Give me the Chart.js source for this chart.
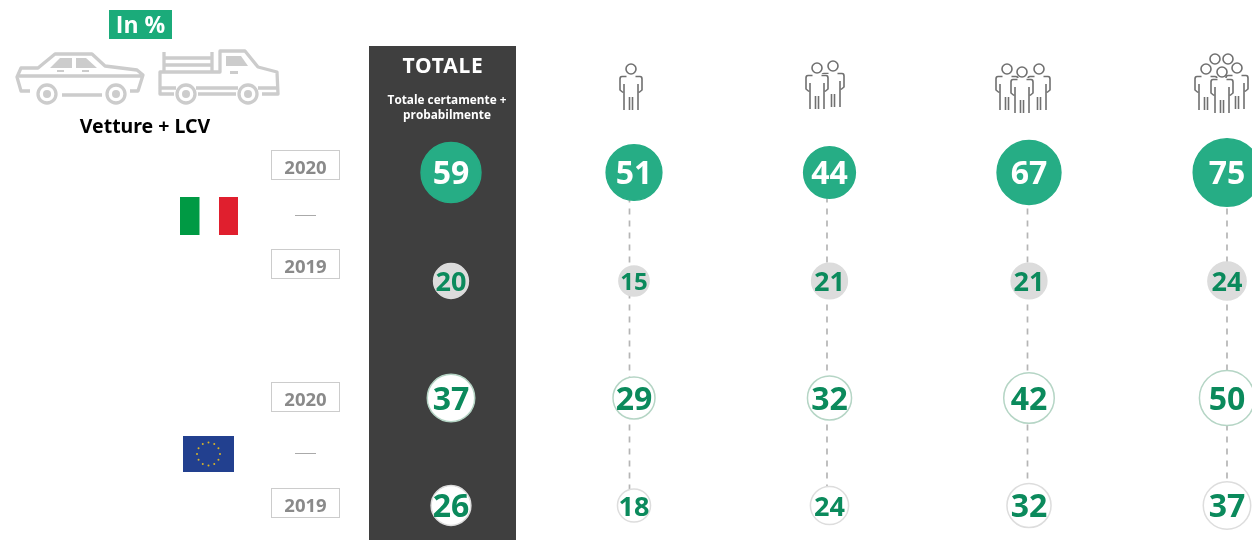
<!DOCTYPE html>
<html lang="it">
<head>
<meta charset="utf-8">
<title>Vetture + LCV</title>
<script src="https://cdn.jsdelivr.net/npm/chart.js@4"></script>
<style>
    html, body { margin: 0; background: #fff; overflow: hidden; }
    #stage { position: relative; width: 1252px; height: 540px; font-family: "Open Sans", sans-serif; font-weight: 700; }
    #stage > * { position: absolute; }
    #chart { left: 0; top: 0; }
    .center { text-align: center; transform: translateX(-50%); white-space: nowrap; }
    #band { left: 369px; top: 46px; width: 147px; height: 494px; background: #3f3f3f; }
    #inPct { left: 109px; top: 10px; width: 63px; height: 29px; line-height: 29px; background: #1bab7a; color: #fff; font-size: 23px; text-align: center; }
    #vehicle { left: 145px; top: 113px; font-size: 19.5px; line-height: 26px; color: #000; font-family: "Noto Sans", sans-serif; }
    #total { left: 443px; top: 51px; font-size: 21px; letter-spacing: 0.8px; line-height: 28px; color: #fff; font-family: "Noto Sans", sans-serif; }
    #totalSub { left: 447px; top: 92px; font-size: 11.8px; line-height: 15px; color: #fff; }
    .year { left: 271px; width: 67px; height: 28px; border: 1.5px solid #ccc; color: #8a8a8a; font-size: 18.5px; line-height: 32px; text-align: center; }
    svg { left: 0; top: 0; }
</style>
</head>
<body>
<div id="stage">
    <div id="band"></div>
    <svg width="1252" height="540" id="art"></svg>
    <canvas id="chart" width="1252" height="540"></canvas>
    <div id="inPct">In %</div>
    <div id="vehicle" class="center">Vetture + LCV</div>
    <div id="total" class="center">TOTALE</div>
    <div id="totalSub" class="center">Totale certamente +<br>probabilmente</div>
</div>

<script>
// --- DATA ---
const categories = ['TOTALE', 'gruppo 1', 'gruppo 2', 'gruppo 3', 'gruppo 4'];
const rowLabels = ['2020', '2019', '2020', '2019'];
const italy2020 = [59, 51, 44, 67, 75];
const italy2019 = [20, 15, 21, 21, 24];
const europe2020 = [37, 29, 32, 42, 50];
const europe2019 = [26, 18, 24, 32, 37];

// --- LAYOUT ---
const columnAnchors = [451, 634, 829.5, 1029, 1227];
const connectorAnchors = [451, 629.5, 827, 1027.5, 1227];
const rowAnchors = [172.5, 281, 398, 505.5];
const yearBoxTops = [150, 249, 382, 488];

const rowStyles = [
    { fill: '#26ad85', border: '#26ad85', text: '#ffffff' },
    { fill: '#dcdcdc', border: '#dcdcdc', text: '#0b8a5c' },
    { fill: '#ffffff', border: '#b5d5c5', text: '#0b8a5c' },
    { fill: '#ffffff', border: '#dddddd', text: '#0b8a5c' }
];

// Area encodes the value
const radiusFor = (v) => 3.9 * Math.sqrt(v);
const fontFor = (v) => (v >= 26 ? 32 : v >= 16 ? 27 : 24);

// Columns and rows of this graphic are not evenly spaced
class SlotScale extends Chart.LinearScale {
    getPixelForValue(value) {
        return this.options.anchors[Math.round(value)];
    }
}
SlotScale.id = 'slots';
SlotScale.defaults = Chart.LinearScale.defaults;
Chart.register(SlotScale);

// --- DATASETS ---
const rows = [italy2020, italy2019, europe2020, europe2019];

const bubbleSets = rows.map((values, r) => ({
    type: 'bubble',
    label: rowLabels[r],
    order: 1,
    clip: false,
    data: values.map((v, c) => ({ x: c, y: r, r: radiusFor(v), value: v })),
    backgroundColor: rowStyles[r].fill,
    borderColor: rowStyles[r].border,
    borderWidth: 1.5,
    xAxisID: 'x',
    yAxisID: 'y'
}));

const connectorSets = categories.slice(1).map((name, i) => ({
    type: 'line',
    label: name,
    order: 2,
    clip: false,
    data: rows.map((_, r) => ({ x: i + 1, y: r })),
    borderColor: '#b5b5b5',
    borderWidth: 1.7,
    borderDash: [6, 6],
    pointRadius: 0,
    xAxisID: 'xLine',
    yAxisID: 'y'
}));

const bubbleLabels = {
    id: 'bubbleLabels',
    afterDatasetsDraw(chart) {
        const ctx = chart.ctx;
        ctx.save();
        ctx.textAlign = 'center';
        ctx.textBaseline = 'middle';
        bubbleSets.forEach((set, r) => {
            const meta = chart.getDatasetMeta(r);
            meta.data.forEach((el, c) => {
                const v = set.data[c].value;
                ctx.font = `700 ${fontFor(v)}px "Open Sans", sans-serif`;
                ctx.fillStyle = rowStyles[r].text;
                ctx.fillText(String(v), el.x, el.y + 2.5);
            });
        });
        ctx.restore();
    }
};

new Chart(document.getElementById('chart'), {
    type: 'bubble',
    data: { datasets: [...bubbleSets, ...connectorSets] },
    options: {
        responsive: false,
        animation: false,
        layout: { padding: 0 },
        plugins: { legend: { display: false }, tooltip: { enabled: false } },
        scales: {
            x: { type: 'slots', display: false, anchors: columnAnchors, min: 0, max: 4 },
            xLine: { type: 'slots', display: false, anchors: connectorAnchors, min: 0, max: 4 },
            y: { type: 'slots', display: false, anchors: rowAnchors, min: 0, max: 3 }
        }
    },
    plugins: [bubbleLabels]
});

// --- SIDE LABELS ---
const stage = document.getElementById('stage');
rowLabels.forEach((label, i) => {
    const box = document.createElement('div');
    box.className = 'year';
    box.style.top = yearBoxTops[i] + 'px';
    box.innerText = label;
    stage.appendChild(box);
});

// --- ICONS AND FLAGS ---
const personPath = 'M-4.5,7.5H-9Q-11,7.5 -11,10V21L-8,23.5M4.5,7.5H9Q11,7.5 11,10V21L8,23.5M-7,15V41M7,15V41M-1.5,28V41M1.5,28V41';
const person = (x, y) => `<g transform="translate(${x},${y})" stroke="#707070" stroke-width="1.6"><rect x="-12" y="6" width="24" height="36" fill="#fff" stroke="none"/><circle r="5" fill="#fff"/><path fill="none" d="${personPath}"/></g>`;
const head = (x, y) => `<circle cx="${x}" cy="${y}" r="5" fill="none" stroke="#707070" stroke-width="1.6"/>`;
const wheel = (x) => `<circle cx="${x}" cy="94" r="9" fill="#fff" stroke="#ccc" stroke-width="3.3"/><circle cx="${x}" cy="94" r="4" fill="#ccc"/>`;

const stars = Array.from({ length: 12 }, (_, i) => {
    const a = i * Math.PI / 6;
    return `<circle cx="${208.5 + 11.5 * Math.cos(a)}" cy="${454 + 11.5 * Math.sin(a)}" r="1" fill="#d9b42a"/>`;
}).join('');

document.getElementById('art').innerHTML = `
    <g fill="none" stroke="#ccc" stroke-width="3.3" stroke-linejoin="round">
        <path d="M30,91H21L17,77L21,68H38L55,54H92L105,66L137,70L143,75L138,91H130M62,95H102M19,76H141"/>
        <path d="M174,94H160V72H220V51H245L258,67L277,72L278,94H262M198,94H236M160,88H176M196,88H238M258,88H278M163,58H213M163,65H213M164,52V71M212,52V71"/>
    </g>
    <path d="M50,68L60,58H72V68ZM76,58H86L97,68H76Z" fill="#ccc"/>
    <rect x="57" y="70" width="7" height="2" fill="#ccc"/><rect x="82" y="70" width="7" height="2" fill="#ccc"/>
    <path d="M226,56H241L248,66H226Z" fill="#ccc"/><rect x="230" y="71" width="8" height="3" fill="#ccc"/>
    ${wheel(47)}${wheel(116)}${wheel(186)}${wheel(248)}
    ${person(631, 69)}
    ${person(833, 66)}${person(817, 68)}
    ${person(1007, 69)}${person(1039, 69)}${person(1022, 72)}
    ${head(1215, 59)}${head(1228, 59)}${person(1206, 69)}${person(1237, 68)}${person(1222, 72)}
    <rect x="180" y="197" width="19.5" height="38" fill="#009a44"/>
    <rect x="219" y="197" width="19" height="38" fill="#e01f2e"/>
    <rect x="183" y="436" width="51" height="36" fill="#22408f"/>
    ${stars}
    <rect x="295" y="215" width="21" height="1" fill="#aaa"/>
    <rect x="295" y="453" width="21" height="1" fill="#aaa"/>
`;
</script>
</body>
</html>
